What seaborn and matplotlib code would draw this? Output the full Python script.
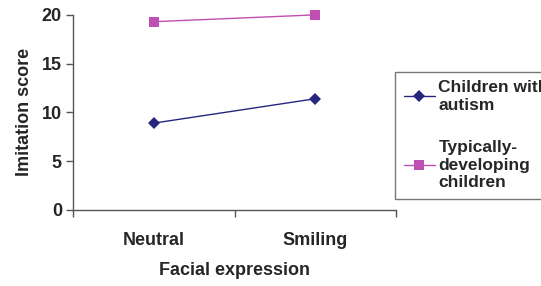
import pandas as pd
import seaborn as sns
import matplotlib.pyplot as plt
from matplotlib.ticker import FixedLocator

# data
expressions = ["Neutral", "Smiling"]
autism_scores = [8.9, 11.4]
typical_scores = [19.3, 20.0]
group_names = ["Children with\nautism", "Typically-\ndeveloping\nchildren"]

df = pd.DataFrame({
    "Facial expression": expressions * 2,
    "Imitation score": autism_scores + typical_scores,
    "Group": [group_names[0]] * 2 + [group_names[1]] * 2,
})

sns.set_style("white")
plt.rcParams["font.family"] = ["Liberation Sans", "DejaVu Sans"]
plt.rcParams["font.weight"] = "bold"

fig = plt.figure(figsize=(5.41, 2.86), dpi=100)
ax = fig.add_axes([0.135, 0.266, 0.597, 0.682])

sns.lineplot(data=df, x="Facial expression", y="Imitation score", hue="Group",
             style="Group", markers=["D", "s"], dashes=False,
             palette=["#26267f", "#c04fb3"], markersize=7, linewidth=1,
             markeredgewidth=0, ax=ax, sort=False)
for ln in ax.lines:
    ln.set_clip_on(False)
ax.lines[0].set_markersize(6)

ax.set_xlim(-0.5, 1.5)
ax.set_ylim(0, 20)
ax.set_yticks([0, 5, 10, 15, 20])
ax.xaxis.set_minor_locator(FixedLocator([-0.5, 0.5, 1.5]))
ax.tick_params(axis="x", which="major", bottom=True, length=0, pad=16, labelsize=13)
ax.tick_params(axis="x", which="minor", bottom=True, length=5, direction="out", width=1, color="#555555")
ax.tick_params(axis="y", left=True, length=5, direction="out", width=1, color="#555555", labelsize=13, pad=3)
for lab in ax.get_xticklabels() + ax.get_yticklabels():
    lab.set_fontweight("bold")

sns.despine(ax=ax)
for s in ["left", "bottom"]:
    ax.spines[s].set_color("#555555")
    ax.spines[s].set_linewidth(1)

ax.set_xlabel("Facial expression", fontsize=13, fontweight="bold", labelpad=9)
ax.set_ylabel("Imitation score", fontsize=13, fontweight="bold", labelpad=6)

leg = ax.legend(loc="upper left", bbox_to_anchor=(0.73, 0.75), bbox_transform=fig.transFigure,
                frameon=True, fancybox=False, fontsize=12.5, labelspacing=1.6,
                handlelength=1.8, handletextpad=0.2, borderpad=0.5, borderaxespad=0)
leg.get_frame().set_edgecolor("#555555")
leg.get_frame().set_linewidth(1)
for t in leg.get_texts():
    t.set_fontweight("bold")
leg.get_lines()[0].set_markersize(6)

fig.savefig("out.png", dpi=100)
